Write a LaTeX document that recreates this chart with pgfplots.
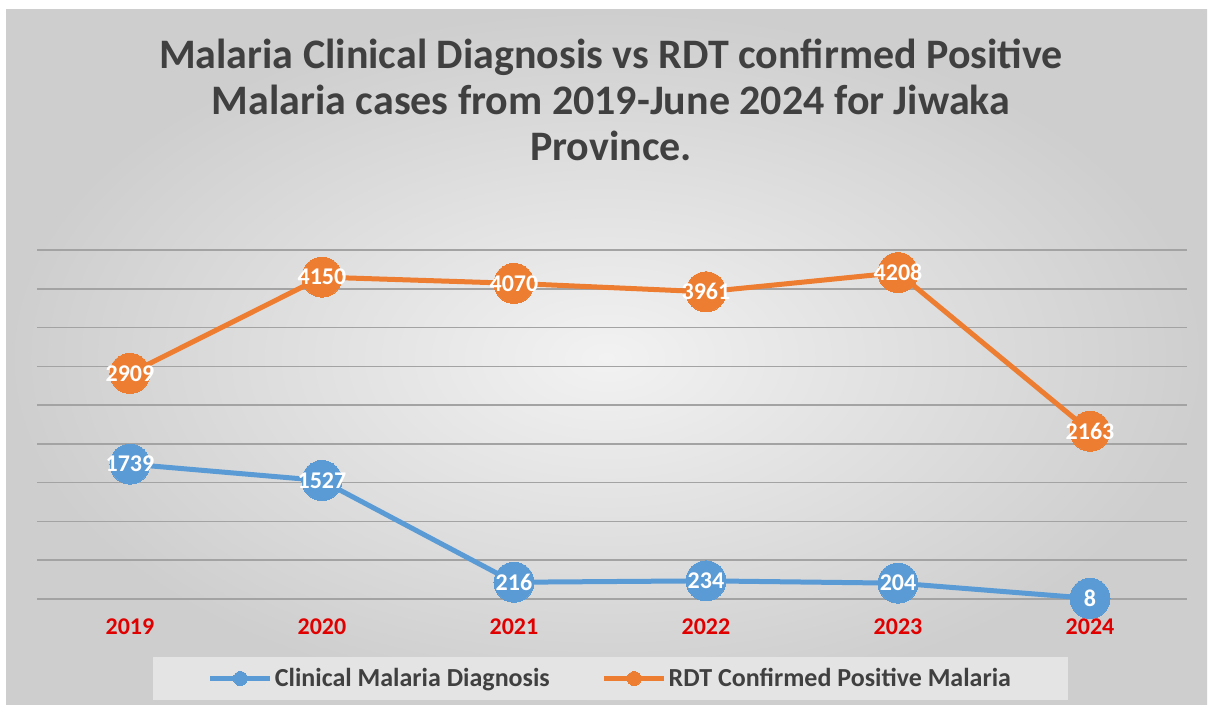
\documentclass[border=0pt]{standalone}
\usepackage{pgfplots}
\pgfplotsset{compat=1.18}
\usepackage{fontspec}
\setmainfont{Carlito}
\definecolor{cblue}{HTML}{5B9BD5}
\definecolor{corange}{HTML}{ED7D31}
\definecolor{ttl}{HTML}{404040}
\definecolor{xred}{HTML}{E00000}
\definecolor{bgin}{RGB}{242,242,242}
\definecolor{bgout}{RGB}{206,206,206}
\definecolor{legbg}{RGB}{228,228,228}
\begin{document}
\begin{tikzpicture}
\useasboundingbox (0,0) rectangle (1214bp,713bp);
\fill[white] (0,0) rectangle (1214bp,713bp);
\shade[inner color=bgin, outer color=bgout] (6bp,8bp) rectangle (1207bp,703bp);
\node[align=center, font=\fontsize{42bp}{46bp}\selectfont\bfseries, text=ttl] at (611bp,613bp)
  {Malaria Clinical Diagnosis vs RDT confirmed Positive\\Malaria cases from 2019-June 2024 for Jiwaka\\Province.};
\fill[legbg] (153bp,13bp) rectangle (1068bp,56bp);
\begin{axis}[
  at={(37bp,114bp)}, anchor=south west,
  scale only axis, width=1150bp, height=349bp,
  xmin=-0.484, xmax=5.505, ymin=0, ymax=4500,
  clip=false,
  axis line style={draw=none},
  xtick={0,1,2,3,4,5},
  xticklabels={2019,2020,2021,2022,2023,2024},
  xticklabel style={font=\fontsize{24bp}{26bp}\selectfont\bfseries, text=xred, yshift=-16bp},
  ytick={500,1000,1500,2000,2500,3000,3500,4000,4500},
  yticklabels={},
  major tick length=0pt,
  ymajorgrids,
  major grid style={color=black!36, line width=1.6bp},
  extra y ticks={0},
  extra y tick labels={},
  extra y tick style={grid style={color=black!78, line width=2.6bp}},
  nodes near coords={\pgfmathprintnumber[1000 sep={},assume math mode=true]{\pgfplotspointmeta}},
  every node near coord/.append style={anchor=center, text=white, font=\fontsize{24bp}{26bp}\selectfont\bfseries},
  legend style={at={(0.4987,-0.2278)}, anchor=center, draw=none, fill=none,
    legend columns=2, font=\fontsize{26bp}{28bp}\selectfont\bfseries, text=ttl,
    /tikz/every even column/.append style={column sep=50bp},
    /tikz/every odd column/.append style={column sep=0bp}},
  legend image code/.code={\draw[mark repeat=2,mark phase=2,#1,mark size=7bp] plot coordinates {(0bp,0bp) (30bp,0bp) (60bp,0bp)};},
]
\addplot[color=cblue, line width=5bp, mark=*, mark size=20bp, mark options={fill=cblue, draw=cblue, line width=0pt}] coordinates {(0,1739) (1,1527) (2,216) (3,234) (4,204) (5,8)};
\addlegendentry{Clinical Malaria Diagnosis}
\addplot[color=corange, line width=5bp, mark=*, mark size=20bp, mark options={fill=corange, draw=corange, line width=0pt}] coordinates {(0,2909) (1,4150) (2,4070) (3,3961) (4,4208) (5,2163)};
\addlegendentry{RDT Confirmed Positive Malaria}
\end{axis}
\end{tikzpicture}
\end{document}
